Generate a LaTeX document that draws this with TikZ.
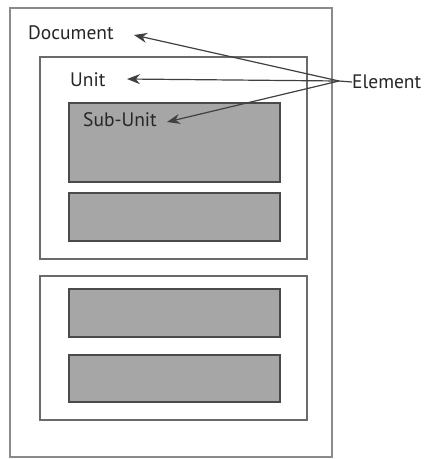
\documentclass[tikz,border=0pt]{standalone}
\usepackage{fontspec}
\setmainfont{PT Sans}
\usetikzlibrary{arrows.meta}
\definecolor{docline}{HTML}{8A8A8A}
\definecolor{unitline}{HTML}{6A6A6A}
\definecolor{subfill}{HTML}{A6A6A6}
\definecolor{subline}{HTML}{4A4A4A}
\tikzset{
  docbox/.style={draw=docline, line width=1.2pt},
  unitbox/.style={draw=unitline, line width=1.2pt},
  subbox/.style={draw=subline, fill=subfill, line width=1.3pt},
  lbl/.style={inner sep=0pt, font=\fontsize{19.5}{22}\selectfont, text=black!85},
  ptr/.style={draw=black!75, line width=1.2pt, -{Stealth[length=13pt,width=10pt]}}
}
\begin{document}
\begin{tikzpicture}[x=1pt,y=-1pt]
\useasboundingbox (0,0) rectangle (425,459);
\draw[docbox] (10,8) rectangle (332,457);
\draw[unitbox] (40,57) rectangle (307,259);
\draw[subbox] (69,103) rectangle (280,182);
\draw[subbox] (69,193) rectangle (280,241);
\draw[unitbox] (40,276) rectangle (307,420);
\draw[subbox] (69,289) rectangle (280,337);
\draw[subbox] (69,355) rectangle (280,402);
\node[lbl, anchor=west] (doc) at (28,33) {Document};
\node[lbl, anchor=west] (unit) at (70,80) {Unit};
\node[lbl, anchor=west] (sub) at (83,120) {Sub-Unit};
\node[lbl, anchor=west] (el) at (352,82) {Element};
\coordinate (hub) at (339,81);
\coordinate (tdoc) at (134,35);
\coordinate (tunit) at (127,79);
\coordinate (tsub) at (167,122);
\draw[ptr] (hub) -- (tdoc);
\draw[ptr] (hub) -- (tunit);
\draw[ptr] (hub) -- (tsub);
\draw[draw=black!75, line width=1.2pt] (hub) -- (el.west);
\end{tikzpicture}
\end{document}
